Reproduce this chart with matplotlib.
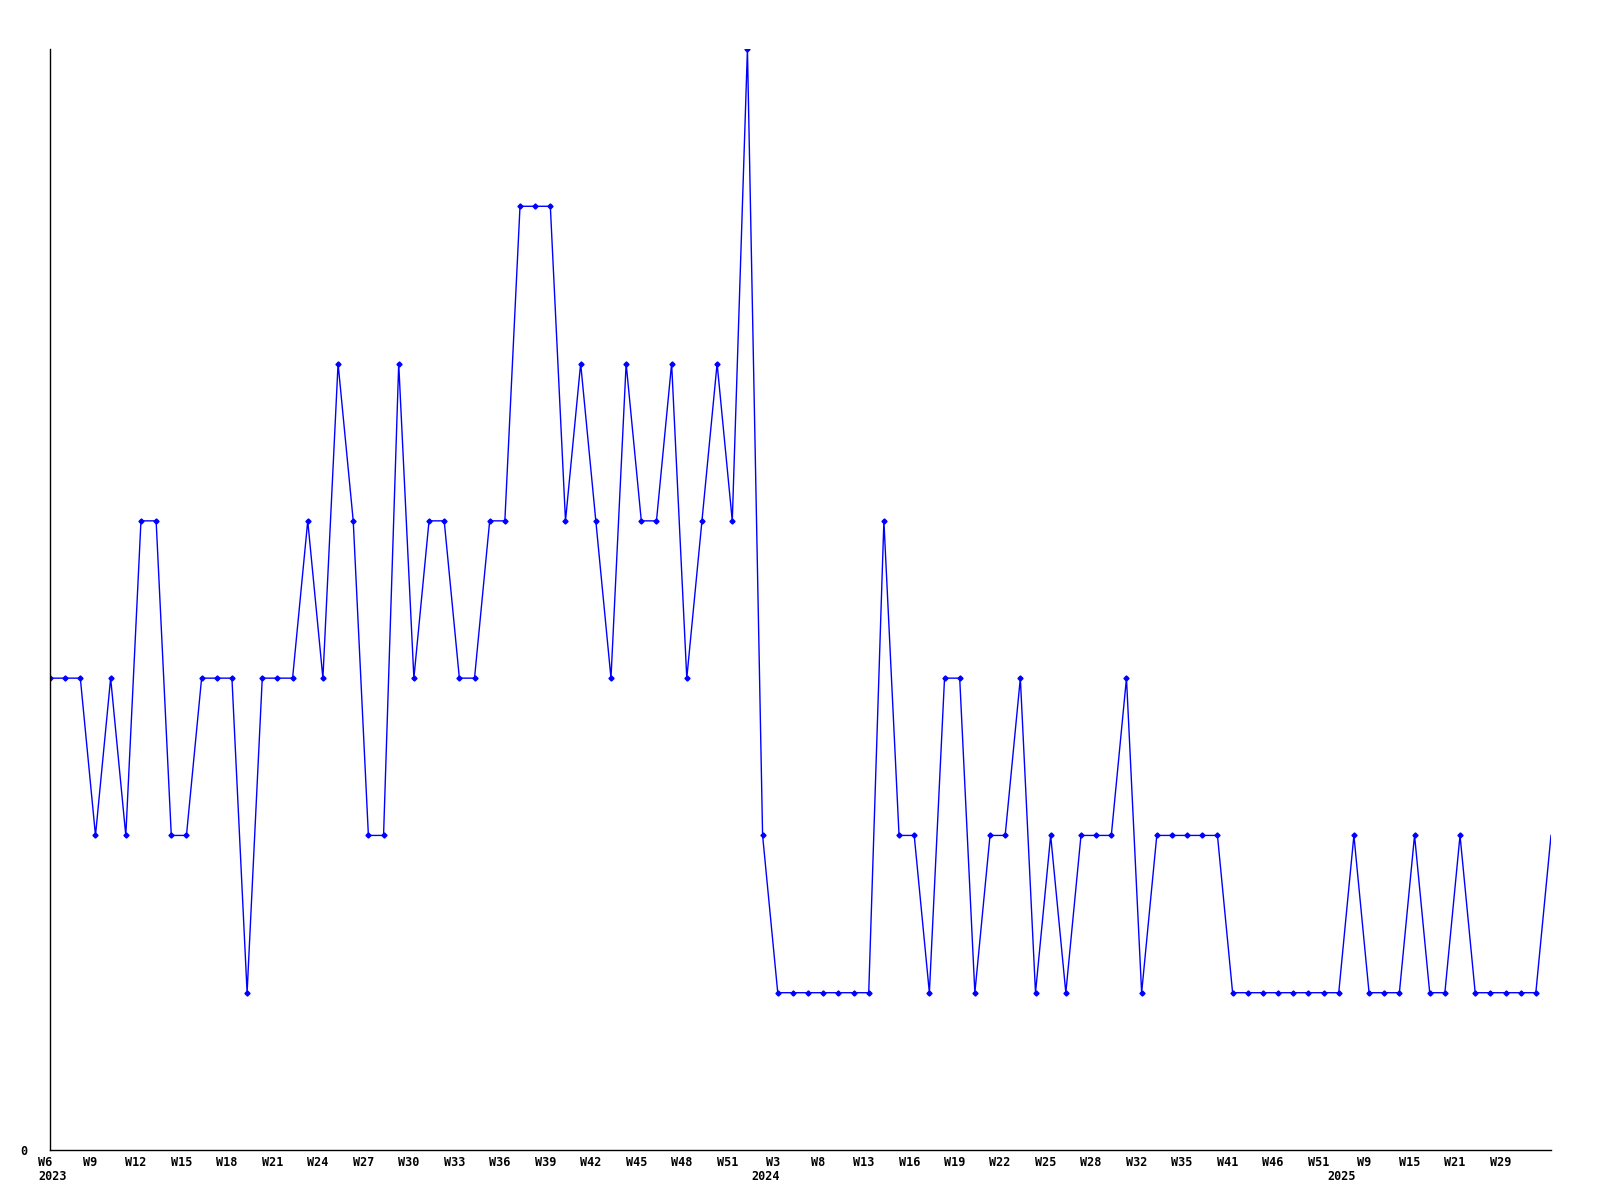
import matplotlib
matplotlib.use('Agg')
import matplotlib.pyplot as plt
from matplotlib.transforms import ScaledTranslation, blended_transform_factory

# weekly counts, one point per observed week
values = [3, 3, 3, 2, 3, 2, 4, 4, 2, 2,
          3, 3, 3, 1, 3, 3, 3, 4, 3, 5,
          4, 2, 2, 5, 3, 4, 4, 3, 3, 4,
          4, 6, 6, 6, 4, 5, 4, 3, 5, 4,
          4, 5, 3, 4, 5, 4, 7, 2, 1, 1,
          1, 1, 1, 1, 1, 4, 2, 2, 1, 3,
          3, 1, 2, 2, 3, 1, 2, 1, 2, 2,
          2, 3, 1, 2, 2, 2, 2, 2, 1, 1,
          1, 1, 1, 1, 1, 1, 2, 1, 1, 1,
          2, 1, 1, 2, 1, 1, 1, 1, 1, 2]

# labels shown on every third point
tick_labels = ['W6', 'W9', 'W12', 'W15', 'W18', 'W21', 'W24', 'W27', 'W30', 'W33',
               'W36', 'W39', 'W42', 'W45', 'W48', 'W51', 'W3', 'W8', 'W13', 'W16',
               'W19', 'W22', 'W25', 'W28', 'W32', 'W35', 'W41', 'W46', 'W51', 'W9',
               'W15', 'W21', 'W29']
years = ['2023', '2024', '2025']
year_idx = [0, 47, 85]

x = list(range(len(values)))

fig = plt.figure(figsize=(16, 12), dpi=100)
ax = fig.add_axes([50 / 1600, 50 / 1200, 1501 / 1600, 1101 / 1200])

ax.plot(x, values, color='#0000ff', linewidth=1.0, marker='D', markersize=2.6,
        markevery=list(range(len(values) - 1)))

ax.set_xlim(0, len(values) - 1)
ax.set_ylim(0, 7)

for side in ['top', 'right']:
    ax.spines[side].set_visible(False)
for side in ['left', 'bottom']:
    ax.spines[side].set_color('black')
    ax.spines[side].set_linewidth(1.0)

font = dict(family='DejaVu Sans Mono', weight='bold', size=8.5)

ax.set_yticks([0])
ax.set_yticklabels(['0'], **font)
ax.tick_params(axis='y', length=0, pad=16)

ax.set_xticks(x[::3][:len(tick_labels)])
ax.set_xticklabels(tick_labels, **font)
ax.tick_params(axis='x', length=0, pad=4.5)

shift = ScaledTranslation(-5 / 100, 0, fig.dpi_scale_trans)
for lab in ax.get_xticklabels():
    lab.set_transform(lab.get_transform() + shift)

yshift = ScaledTranslation(3 / 100, 0, fig.dpi_scale_trans)
trans = blended_transform_factory(ax.transData, ax.transAxes) + yshift
for yr, i in zip(years, year_idx):
    ax.text(i, -0.0245, yr, transform=trans, ha='center', va='center', **font)

fig.savefig('out.png', dpi=100, facecolor='white')
